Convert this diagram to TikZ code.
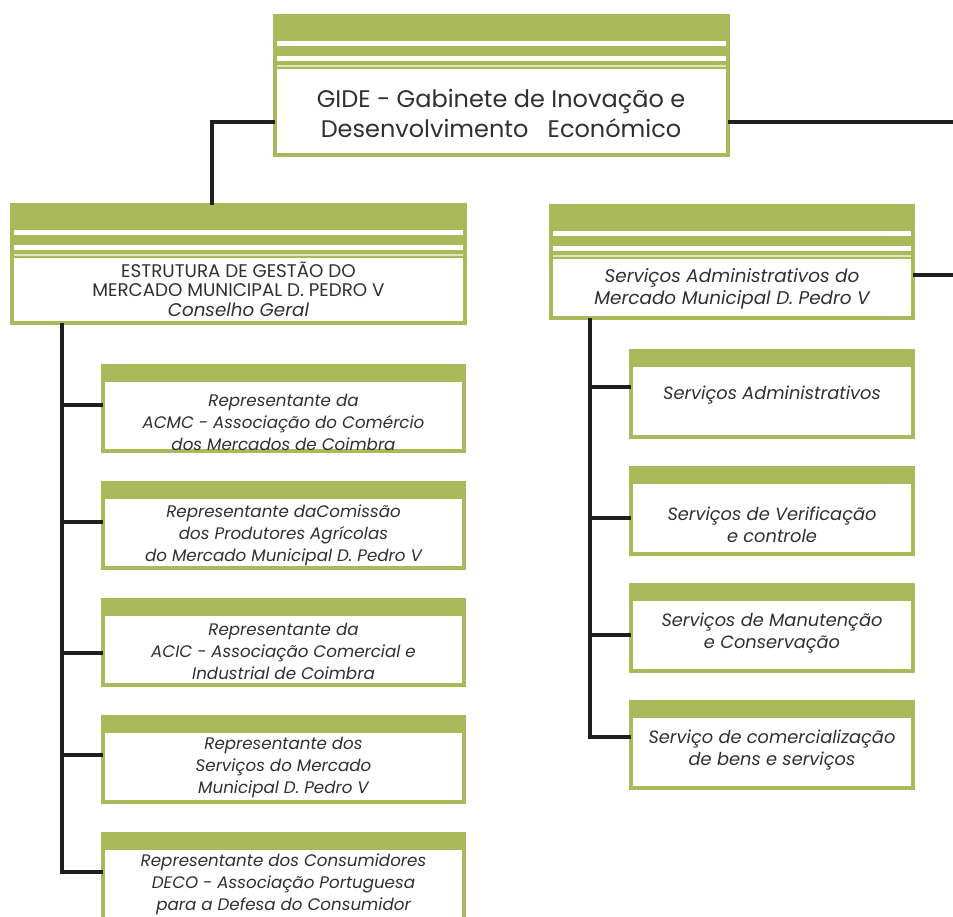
\documentclass[tikz,border=0pt]{standalone}
\usepackage{fontspec}
\setmainfont{Poppins}
\definecolor{gr}{RGB}{170,186,90}
\definecolor{pale}{RGB}{222,230,186}
\definecolor{tx}{RGB}{48,48,48}
\tikzset{
  orgbox/.style={draw=gr, line width=4pt, fill=white, inner sep=0pt, outer sep=0pt, anchor=north west},
  bighead/.style={path picture={
    \fill[gr] (path picture bounding box.north west) rectangle ([yshift=-53pt]path picture bounding box.north east);
    \fill[white] ([xshift=2pt,yshift=-25pt]path picture bounding box.north west) rectangle ([xshift=-2pt,yshift=-30pt]path picture bounding box.north east);
    \fill[white] ([xshift=2pt,yshift=-40pt]path picture bounding box.north west) rectangle ([xshift=-2pt,yshift=-45pt]path picture bounding box.north east);
    \fill[pale] ([xshift=2pt,yshift=-49pt]path picture bounding box.north west) rectangle ([xshift=-2pt,yshift=-51pt]path picture bounding box.north east);
  }},
  smallhead/.style={path picture={
    \fill[gr] (path picture bounding box.north west) rectangle ([yshift=-16pt]path picture bounding box.north east);
  }},
  txt/.style={text=tx, align=center, inner sep=0pt},
  gidefont/.style={font=\fontsize{24}{30}\selectfont},
  estfont/.style={font=\fontsize{18.3}{19.5}\selectfont},
  subfont/.style={font=\fontsize{16.7}{22}\selectfont\itshape},
  rsubfont/.style={font=\fontsize{17.8}{22}\selectfont\itshape},
  conn/.style={line width=3.2pt, draw=black!88}
}
\begin{document}
\begin{tikzpicture}[x=1pt,y=-1pt]
\useasboundingbox (0,0) rectangle (953,916);
\clip (0,0) rectangle (953,916);
\fill[white] (0,0) rectangle (953,916);

% top level boxes
\node[orgbox, bighead, minimum width=453pt, minimum height=139pt] (gide) at (275,16) {};
\node[orgbox, bighead, minimum width=453pt, minimum height=118pt] (estr) at (12,205) {};
\node[orgbox, bighead, minimum width=362pt, minimum height=112pt] (serv) at (551,206) {};

\node[txt, gidefont] (gidet) at (501,113) {GIDE - Gabinete de Inovação e\\Desenvolvimento\ \ \ Económico};
\node[txt, estfont] (estrt) at (238.5,289) {ESTRUTURA DE GESTÃO DO\\MERCADO MUNICIPAL D. PEDRO V\\\textit{Conselho Geral}};
\node[txt, font=\fontsize{18.4}{22}\selectfont\itshape] (servt) at (732,289) {Serviços Administrativos do\\Mercado Municipal D. Pedro V};

% left column
\node[orgbox, smallhead, minimum width=361pt, minimum height=85pt] (r1) at (103,366) {};
\node[orgbox, smallhead, minimum width=361pt, minimum height=85pt] (r2) at (103,483) {};
\node[orgbox, smallhead, minimum width=361pt, minimum height=85pt] (r3) at (103,600) {};
\node[orgbox, smallhead, minimum width=361pt, minimum height=85pt] (r4) at (103,717) {};
\node[orgbox, smallhead, minimum width=361pt, minimum height=85pt] (r5) at (103,834) {};

\node[txt, subfont] (r1t) at (283.5,422) {Representante da\\ACMC - Associação do Comércio\\dos Mercados de Coimbra};
\node[txt, subfont] (r2t) at (283.5,535) {Representante daComissão\\dos Produtores Agrícolas\\do Mercado Municipal D. Pedro V};
\node[txt, subfont] (r3t) at (283.5,651) {Representante da\\ACIC - Associação Comercial e\\Industrial de Coimbra};
\node[txt, subfont] (r4t) at (283.5,767) {Representante dos\\Serviços do Mercado\\Municipal D. Pedro V};
\node[txt, subfont] (r5t) at (283.5,884) {Representante dos Consumidores\\DECO - Associação Portuguesa\\para a Defesa do Consumidor};

% right column
\node[orgbox, smallhead, minimum width=282pt, minimum height=86pt] (s1) at (631,351) {};
\node[orgbox, smallhead, minimum width=282pt, minimum height=86pt] (s2) at (631,468) {};
\node[orgbox, smallhead, minimum width=282pt, minimum height=86pt] (s3) at (631,585) {};
\node[orgbox, smallhead, minimum width=282pt, minimum height=86pt] (s4) at (631,702) {};

\node[txt, rsubfont] (s1t) at (772,395) {Serviços Administrativos};
\node[txt, rsubfont] (s2t) at (772,525) {Serviços de Verificação\\e controle};
\node[txt, rsubfont] (s3t) at (772,633) {Serviços de Manutenção\\e Conservação};
\node[txt, rsubfont] (s4t) at (772,750) {Serviço de comercialização\\de bens e serviços};

% connectors
\coordinate (cg) at (212,122);
\coordinate (rg) at (953,122);
\coordinate (rs) at (953,275);
\coordinate (ls) at (62,0);
\coordinate (rsp) at (590,0);

\draw[conn] (gide.west |- cg) -| (estr.north -| cg);
\draw[conn] (gide.east |- cg) -- (rg);
\draw[conn] (serv.east |- rs) -- (rs);

\draw[conn] (r1.west |- 0,405) -| (estr.south -| ls);
\draw[conn] (r2.west |- 0,522) -| (estr.south -| ls);
\draw[conn] (r3.west |- 0,653) -| (estr.south -| ls);
\draw[conn] (r4.west |- 0,755) -| (estr.south -| ls);
\draw[conn] (r5.west |- 0,872) -| (estr.south -| ls);

\draw[conn] (s1.west |- 0,387) -| (serv.south -| rsp);
\draw[conn] (s2.west |- 0,518) -| (serv.south -| rsp);
\draw[conn] (s3.west |- 0,635) -| (serv.south -| rsp);
\draw[conn] (s4.west |- 0,737) -| (serv.south -| rsp);
\end{tikzpicture}
\end{document}
